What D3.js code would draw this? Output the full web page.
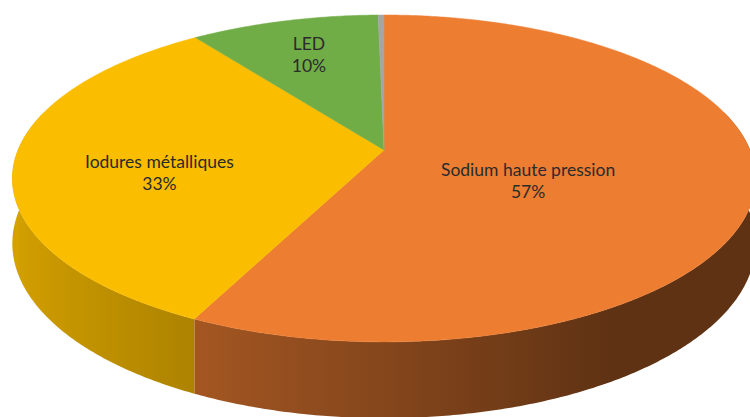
<!DOCTYPE html>
<html>
<head>
<meta charset="utf-8">
<script src="https://cdn.jsdelivr.net/npm/d3@7"></script>
<style>
  html, body { margin: 0; padding: 0; background: #fff; }
  svg { display: block; }
</style>
</head>
<body>
<svg id="chart" width="750" height="417"></svg>
<script>
// ---- Data ----
const categories = ["Sodium haute pression", "Iodures métalliques", "LED", "Autres"];
const values = [57.2, 32.8, 9.7, 0.3];
const colors = ["#ED7D31", "#FABD00", "#70AD47", "#A5A5A5"];

// ---- Layout / projection ----
const cx = 384, cy = 150;      // projected pie centre
const A = 366, B = 158.5;      // horizontal / depth radii
const persp = 0.174;           // perspective strength
const depth = 63;              // extrusion thickness

function proj(theta, r, h) {
  const x = r * Math.sin(theta);
  const z = -r * Math.cos(theta);   // +z toward viewer
  const w = 1 - persp * z;
  return [cx + A * x / w, cy + B * z / w + h * depth / w];
}
function shade(theta) {
  const f = 0.56 - 0.30 * Math.sin(theta);
  return Math.max(0.40, Math.min(0.88, f));
}

const svg = d3.select("#chart");
const defs = svg.append("defs");
const pie = d3.pie().sort(null).value(d => d);
const arcs = pie(values);
const line = d3.line();
const step = Math.PI / 360;

// ---- Side walls (front half only, smooth gradients) ----
const lo = Math.PI / 2 - 0.25, hi = 3 * Math.PI / 2 + 0.25;
const sideG = svg.append("g");
arcs.forEach((a, i) => {
  const s = Math.max(a.startAngle, lo), e = Math.min(a.endAngle, hi);
  if (s >= e) return;
  const n = Math.max(2, Math.ceil((e - s) / step));
  const topPts = [], botPts = [];
  for (let k = 0; k <= n; k++) {
    const t = s + (e - s) * k / n;
    topPts.push(proj(t, 1, 0));
    botPts.push(proj(t, 1, 1));
  }
  // gradient along x, sampled on the monotonic front half only
  const gs = Math.max(s, Math.PI / 2), ge = Math.min(e, 3 * Math.PI / 2);
  const base = d3.rgb(colors[i]);
  const raw = [];
  const m = 40;
  for (let k = 0; k <= m; k++) {
    const t = gs + (ge - gs) * k / m;
    const f = shade(t);
    raw.push({ x: proj(t, 1, 0)[0],
               col: d3.rgb(base.r * f, base.g * f, base.b * f).formatHex() });
  }
  const xmin = d3.min(raw, d => d.x), xmax = d3.max(raw, d => d.x);
  const stops = raw.map(d => ({ off: (d.x - xmin) / (xmax - xmin || 1), col: d.col }))
                   .sort((p, q) => p.off - q.off);
  const gid = "side" + i;
  defs.append("linearGradient").attr("id", gid)
    .attr("gradientUnits", "userSpaceOnUse")
    .attr("x1", xmin).attr("x2", xmax).attr("y1", 0).attr("y2", 0)
    .selectAll("stop").data(stops).join("stop")
    .attr("offset", d => d.off).attr("stop-color", d => d.col);
  sideG.append("path")
    .attr("d", line(topPts.concat(botPts.reverse())) + "Z")
    .attr("fill", `url(#${gid})`);
});

// ---- Top faces ----
function topPoints(a) {
  const pts = [proj(0, 0, 0)];
  const n = Math.max(2, Math.ceil((a.endAngle - a.startAngle) / step));
  for (let k = 0; k <= n; k++) {
    const t = a.startAngle + (a.endAngle - a.startAngle) * k / n;
    pts.push(proj(t, 1, 0));
  }
  return pts;
}
svg.append("g").selectAll("path").data(arcs).join("path")
  .attr("d", d => line(topPoints(d)) + "Z")
  .attr("fill", (d, i) => colors[i])
  .attr("stroke", (d, i) => colors[i])
  .attr("stroke-width", 0.5);

// ---- Labels ----
const labelG = svg.append("g")
  .attr("font-family", "Lato, 'Open Sans', sans-serif")
  .attr("font-size", 17.5)
  .attr("fill", "#2b2b2b")
  .attr("text-anchor", "middle");

arcs.forEach((a, i) => {
  const pct = Math.round(a.data);
  if (pct < 1) return;
  const alpha = a.endAngle - a.startAngle;
  const r = 1.1 * 4 * Math.sin(alpha / 2) / (3 * alpha);
  const midA = (a.startAngle + a.endAngle) / 2;
  const p = proj(midA, r, 0);
  const zMid = -Math.cos(midA);
  const yc = p[1] + 14 + 12 * zMid;
  const t = labelG.append("text").attr("x", p[0]).attr("y", yc);
  t.append("tspan").attr("x", p[0]).attr("dy", "-0.3em").text(categories[i]);
  t.append("tspan").attr("x", p[0]).attr("dy", "1.25em").text(pct + "%");
});
</script>
</body>
</html>
